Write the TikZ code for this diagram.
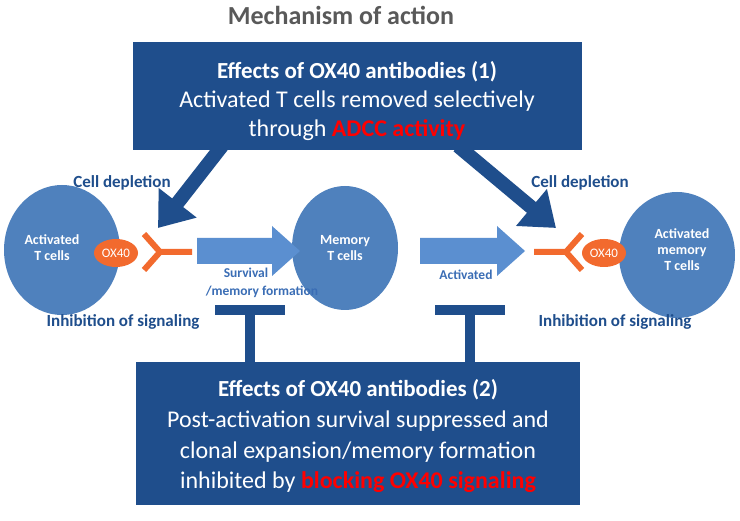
\documentclass[tikz,border=0pt]{standalone}
\usepackage{fontspec}
\setmainfont{Carlito}
\usetikzlibrary{arrows.meta,shapes.geometric}
\definecolor{dblue}{HTML}{1F4E8C}
\definecolor{cell}{HTML}{4F81BD}
\definecolor{larr}{HTML}{5B8FD0}
\definecolor{lab}{HTML}{3A6DB5}
\definecolor{orng}{HTML}{F26A2E}
\definecolor{ttl}{HTML}{595959}
\begin{document}
\begin{tikzpicture}[x=1pt,y=-1pt,
  box/.style={fill=dblue,draw=none},
  bt/.style={text=white,font=\fontsize{24}{27}\selectfont},
  cellc/.style={ellipse,fill=cell,draw=none,text=white,inner sep=0pt,font=\bfseries\fontsize{14}{16}\selectfont,align=center},
  ox/.style={ellipse,fill=orng,text=white,inner sep=1pt,minimum width=44,minimum height=28,font=\fontsize{13}{14}\selectfont},
  lbl/.style={text=dblue,font=\bfseries\fontsize{17}{19}\selectfont},
  sl/.style={text=lab,font=\bfseries\fontsize{13.5}{15}\selectfont},
  lar/.style={fill=larr,draw=none},
  dar/.style={draw=dblue,line width=14pt,-{Triangle[length=32pt,width=46pt]}},
  tbar/.style={draw=dblue,line width=10pt},
  ab/.style={draw=orng,line width=6pt}]
\useasboundingbox (0,0) rectangle (740,521);
\fill[white] (0,0) rectangle (740,521);
\node[text=ttl,font=\bfseries\fontsize{26}{28}\selectfont] (title) at (341,15) {Mechanism of action};
\fill[box] (133,42) rectangle (582,150);
\node[bt,font=\bfseries\fontsize{23}{26}\selectfont] (t1) at (357,72) {Effects of OX40 antibodies (1)};
\node[bt] (t2) at (357,101) {Activated T cells removed selectively};
\node[bt] (t3) at (357,130) {through \textcolor{red}{\bfseries ADCC activity}};
\fill[box] (136,362) rectangle (580,505);
\node[bt,font=\bfseries\fontsize{23}{26}\selectfont] (b1) at (358,390) {Effects of OX40 antibodies (2)};
\node[bt] (b2) at (358,421) {Post-activation survival suppressed and};
\node[bt] (b3) at (358,452) {clonal expansion/memory formation};
\node[bt] (b4) at (358,482) {inhibited by \textcolor{red}{\bfseries blocking OX40 signaling}};
\node[cellc,minimum width=116,minimum height=130] (c1) at (62,250) {};
\node[text=white,font=\bfseries\fontsize{14}{16}\selectfont,align=center] (c1t) at (52,248) {Activated\\T cells};
\node[cellc,minimum width=106,minimum height=124] (c2) at (345,248) {Memory\\T cells};
\node[cellc,minimum width=116,minimum height=126] (c3) at (677,255) {};
\node[text=white,font=\bfseries\fontsize{14}{16}\selectfont,align=center] (c3t) at (682,250) {Activated\\memory\\T cells};
\node[ox] (o1) at (116,253) {OX40};
\node[ox] (o2) at (604,253) {OX40};
% antibodies
\draw[ab] (144,234) -- (160,252) -- (144,270) (160,252) -- (192,252);
\draw[ab] (582,234) -- (566,252) -- (582,270) (566,252) -- (534,252);
% light arrows
\fill[lar] (197,238) -- (272,238) -- (272,226) -- (300,251) -- (272,276) -- (272,264) -- (197,264) -- cycle;
\fill[lar] (420,238) -- (497,238) -- (497,226) -- (525,251) -- (497,276) -- (497,264) -- (420,264) -- cycle;
\node[sl] (s1) at (246,273) {Survival};
\node[sl] (s2) at (262,292) {/memory formation};
\node[sl] (s3) at (466,275) {Activated};
% dark arrows
\coordinate (a1s) at (222,146); \coordinate (a1e) at (158,228);
\coordinate (a2s) at (458,146); \coordinate (a2e) at (556,228);
\draw[dar] (a1s) -- (a1e);
\draw[dar] (a2s) -- (a2e);
\node[lbl] (l1) at (122,183) {Cell depletion};
\node[lbl] (l2) at (580,183) {Cell depletion};
\node[lbl] (l3) at (123,322) {Inhibition of signaling};
\node[lbl] (l4) at (615,322) {Inhibition of signaling};
% T bars
\draw[tbar] (250,362) -- (250,310); \draw[tbar] (215,310) -- (285,310);
\draw[tbar] (470,362) -- (470,310); \draw[tbar] (435,310) -- (505,310);
\end{tikzpicture}
\end{document}
